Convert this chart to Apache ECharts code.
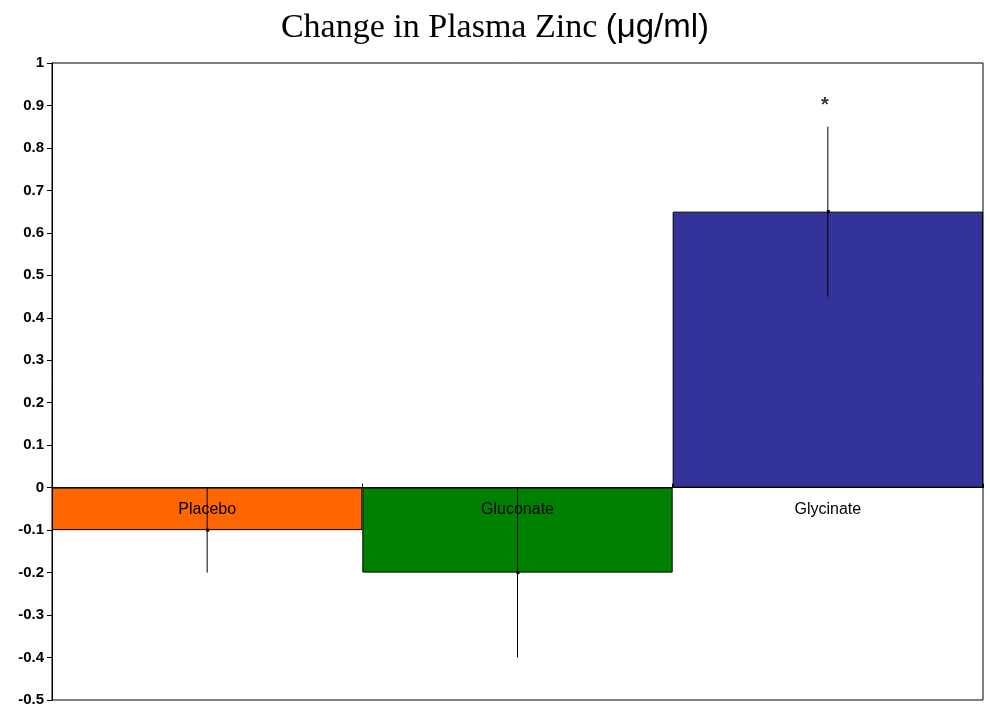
<!DOCTYPE html>
<html>
<head>
<meta charset="utf-8">
<script src="https://cdn.jsdelivr.net/npm/echarts@6/dist/echarts.min.js"></script>
<style>
html,body{margin:0;padding:0;background:#fff;}
#chart{width:990px;height:705px;}
</style>
</head>
<body>
<div id="chart"></div>
<script>
const categories = ['Placebo', 'Gluconate', 'Glycinate'];
const means = [-0.1, -0.2, 0.65];
const errors = [0.1, 0.2, 0.2];
const barColors = ['#FF6600', '#008000', '#333399'];
const sigMarks = [[2, 0.9, '*']];

const chart = echarts.init(document.getElementById('chart'));
chart.setOption({
  animation: false,
  backgroundColor: '#fff',
  title: {
    left: 'center',
    top: 6,
    text: '{a|Change in Plasma Zinc }{b|(μg/ml)}',
    textStyle: {
      fontWeight: 'normal',
      rich: {
        a: { fontFamily: 'Liberation Serif', fontSize: 34, fontWeight: 'normal', color: '#000' },
        b: { fontFamily: 'Liberation Sans', fontSize: 33, fontWeight: 'normal', color: '#000' }
      }
    }
  },
  grid: {
    left: 52, right: 7, top: 63, bottom: 5,
    containLabel: false, outerBoundsMode: 'none',
    show: true, borderColor: '#000', borderWidth: 1, backgroundColor: 'transparent'
  },
  xAxis: {
    type: 'category',
    data: categories,
    z: 5,
    axisLine: { onZero: true, lineStyle: { color: '#000', width: 1 } },
    axisTick: { show: true, inside: true, length: 4, interval: 0, lineStyle: { color: '#000' } },
    axisLabel: { show: false },
    splitLine: { show: false }
  },
  yAxis: {
    type: 'value',
    min: -0.5, max: 1, interval: 0.1,
    axisLine: { show: true, lineStyle: { color: '#000', width: 1 } },
    axisTick: { show: true, length: 5, lineStyle: { color: '#000' } },
    axisLabel: {
      margin: 8, color: '#000', fontSize: 15, fontWeight: 'bold', fontFamily: 'Liberation Sans',
      formatter: v => String(Number(v.toFixed(1)))
    },
    splitLine: { show: false }
  },
  series: [
    {
      type: 'bar',
      barCategoryGap: '0%',
      data: means.map((v, i) => ({ value: v, itemStyle: { color: barColors[i] } })),
      itemStyle: { borderColor: '#000', borderWidth: 1 },
      z: 2
    },
    {
      type: 'custom',
      z: 3,
      data: means.map((v, i) => [i, v, v - errors[i], v + errors[i]]),
      renderItem: function (params, api) {
        const i = api.value(0);
        const p = api.coord([i, api.value(1)]);
        const lo = api.coord([i, api.value(2)]);
        const hi = api.coord([i, api.value(3)]);
        return {
          type: 'group',
          children: [
            { type: 'line', shape: { x1: p[0], y1: lo[1], x2: p[0], y2: hi[1] }, style: { stroke: '#000', lineWidth: 1 } },
            { type: 'rect', shape: { x: p[0] - 1, y: p[1] - 1.5, width: 3, height: 3 }, style: { fill: '#000' } }
          ]
        };
      }
    },
    {
      type: 'custom',
      z: 6,
      data: categories.map((c, i) => [i, 0]),
      renderItem: function (params, api) {
        const p = api.coord([api.value(0), api.value(1)]);
        return {
          type: 'text',
          x: p[0], y: p[1] + 22,
          style: {
            text: categories[params.dataIndex],
            fill: '#000', fontSize: 16, fontFamily: 'Liberation Sans',
            align: 'center', verticalAlign: 'middle'
          }
        };
      }
    },
    {
      type: 'scatter',
      symbolSize: 0,
      z: 4,
      data: sigMarks.map(m => [m[0], m[1], m[2]]),
      label: {
        show: true, position: 'inside', offset: [-3, 0],
        formatter: p => p.value[2],
        fontSize: 20, fontWeight: 'bold', fontFamily: 'Liberation Sans', color: '#000'
      }
    }
  ]
});
</script>
</body>
</html>
